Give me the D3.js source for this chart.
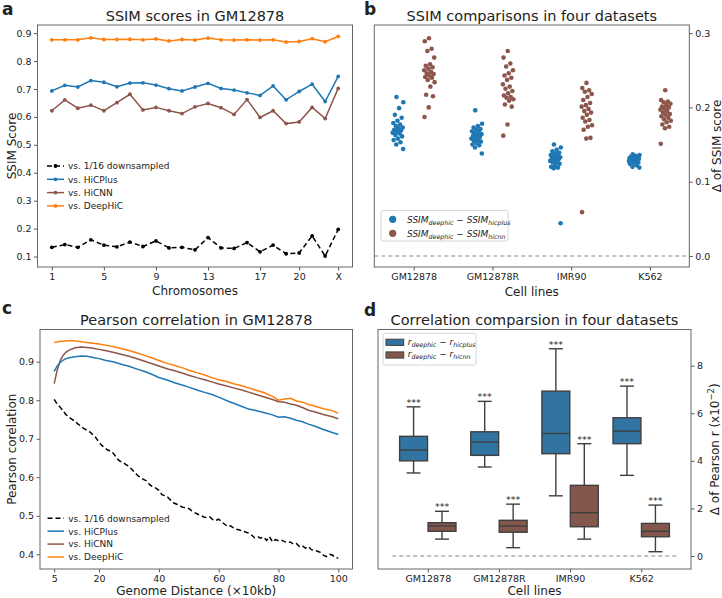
<!DOCTYPE html>
<html><head><meta charset="utf-8">
<script src="https://cdn.jsdelivr.net/npm/d3@7"></script>
<style>
body{margin:0;background:#fff}
svg{display:block}
text{font-family:"DejaVu Sans",sans-serif;fill:#222}
</style>
</head><body>
<svg id="chart" width="722" height="598"></svg>
<script>
// ---------------- DATA ----------------
// Panel a
const chromosomes = ["1","2","3","4","5","6","7","8","9","10","11","12","13","14","15","16","17","18","19","20","21","22","X"];
const chromTickLabels = ["1","5","9","13","17","20","X"];
const ssimDownsampled = [0.133,0.143,0.133,0.160,0.141,0.135,0.152,0.136,0.156,0.131,0.133,0.124,0.168,0.131,0.129,0.150,0.117,0.141,0.110,0.113,0.174,0.102,0.197];
const ssimHiCPlus = [0.693,0.713,0.707,0.730,0.724,0.708,0.721,0.722,0.714,0.701,0.693,0.707,0.720,0.702,0.696,0.686,0.677,0.711,0.661,0.691,0.717,0.655,0.745];
const ssimHiCNN = [0.622,0.661,0.631,0.642,0.622,0.651,0.681,0.625,0.634,0.622,0.612,0.636,0.648,0.633,0.609,0.662,0.598,0.622,0.576,0.582,0.634,0.594,0.702];
const ssimDeepHiC = [0.876,0.876,0.876,0.883,0.877,0.877,0.878,0.876,0.879,0.872,0.877,0.875,0.882,0.876,0.875,0.876,0.875,0.876,0.868,0.870,0.880,0.869,0.888];

// Panel b
const cellLines = ["GM12878","GM12878R","IMR90","K562"];
const dSsimHicplus = [
  [0.214,0.207,0.199,0.190,0.186,0.182,0.179,0.177,0.175,0.173,0.172,0.170,0.169,0.168,0.166,0.165,0.163,0.161,0.158,0.156,0.153,0.150,0.144],
  [0.196,0.178,0.175,0.173,0.171,0.170,0.168,0.167,0.165,0.164,0.163,0.162,0.160,0.159,0.158,0.156,0.155,0.154,0.152,0.150,0.149,0.146,0.138],
  [0.150,0.146,0.143,0.141,0.139,0.138,0.136,0.135,0.134,0.133,0.132,0.131,0.130,0.129,0.128,0.127,0.126,0.124,0.122,0.120,0.119,0.118,0.044],
  [0.137,0.136,0.135,0.134,0.134,0.133,0.132,0.132,0.131,0.131,0.130,0.130,0.129,0.129,0.128,0.128,0.127,0.126,0.125,0.124,0.122,0.120,0.119]
];
const dSsimHicnn = [
  [0.293,0.289,0.279,0.276,0.267,0.258,0.256,0.254,0.252,0.250,0.248,0.246,0.245,0.243,0.241,0.240,0.237,0.234,0.228,0.217,0.215,0.200,0.187],
  [0.276,0.267,0.259,0.255,0.250,0.246,0.243,0.240,0.237,0.231,0.228,0.225,0.222,0.219,0.216,0.214,0.213,0.211,0.209,0.204,0.201,0.177,0.162],
  [0.233,0.226,0.223,0.221,0.218,0.214,0.210,0.206,0.203,0.201,0.198,0.195,0.193,0.190,0.186,0.183,0.181,0.176,0.174,0.170,0.159,0.158,0.059],
  [0.223,0.210,0.208,0.207,0.205,0.203,0.201,0.200,0.198,0.197,0.195,0.193,0.191,0.190,0.188,0.186,0.184,0.182,0.180,0.177,0.174,0.172,0.151]
];

// Panel c
const distSmooth = [5,6,7,8,9,10,12,14,16,18,20,22,25,28,30,33,35,38,40,43,45,48,50,53,55,58,60,63,65,68,70,72,75,78,80,82,84,86,88,90,92,95,98,100];
const pearsonHiCPlus = [0.875,0.889,0.898,0.904,0.908,0.910,0.913,0.915,0.914,0.911,0.908,0.904,0.899,0.892,0.888,0.880,0.875,0.866,0.859,0.852,0.846,0.839,0.834,0.826,0.821,0.814,0.808,0.798,0.792,0.783,0.777,0.774,0.768,0.762,0.756,0.757,0.753,0.748,0.744,0.738,0.733,0.724,0.716,0.711];
const pearsonHiCNN = [0.843,0.878,0.903,0.917,0.925,0.930,0.936,0.938,0.937,0.935,0.932,0.929,0.924,0.918,0.914,0.907,0.902,0.894,0.889,0.881,0.877,0.870,0.865,0.858,0.854,0.847,0.842,0.836,0.832,0.826,0.821,0.816,0.809,0.802,0.796,0.795,0.790,0.787,0.781,0.774,0.770,0.763,0.757,0.752];
const pearsonDeepHiC = [0.950,0.951,0.953,0.953,0.954,0.955,0.954,0.952,0.950,0.948,0.946,0.943,0.939,0.933,0.929,0.922,0.917,0.909,0.903,0.895,0.891,0.884,0.878,0.871,0.866,0.858,0.853,0.848,0.843,0.837,0.832,0.827,0.820,0.810,0.800,0.803,0.805,0.798,0.795,0.789,0.785,0.778,0.773,0.766];
const distDown = d3.range(5, 101);
const pearsonDownsampled = [0.802,0.790,0.782,0.772,0.762,0.756,0.750,0.745,0.738,0.732,0.726,0.722,0.717,0.710,0.702,0.690,0.682,0.676,0.670,0.668,0.660,0.648,0.642,0.638,0.633,0.628,0.620,0.612,0.604,0.598,0.594,0.590,0.580,0.575,0.572,0.566,0.555,0.552,0.548,0.540,0.533,0.530,0.526,0.522,0.520,0.519,0.513,0.508,0.504,0.501,0.497,0.495,0.497,0.490,0.488,0.491,0.484,0.478,0.472,0.474,0.468,0.465,0.463,0.460,0.458,0.455,0.450,0.443,0.446,0.442,0.445,0.436,0.446,0.432,0.438,0.435,0.437,0.433,0.430,0.432,0.426,0.428,0.420,0.422,0.416,0.420,0.412,0.410,0.408,0.405,0.398,0.394,0.400,0.398,0.392,0.390];

// Panel d : [lower whisker, Q1, median, Q3, upper whisker] (x10^-2)
const boxStatsHicplus = [
  [3.49,4.00,4.45,5.03,6.27],
  [3.74,4.23,4.79,5.22,6.50],
  [2.53,4.30,5.15,6.93,8.71],
  [3.39,4.72,5.25,5.81,7.14]
];
const boxStatsHicnn = [
  [0.71,1.04,1.26,1.40,1.88],
  [0.35,1.00,1.26,1.50,2.18],
  [0.71,1.23,1.82,2.97,4.72],
  [0.18,0.81,1.04,1.37,2.14]
];

// ---------------- STYLE ----------------
const C_BLUE = "#1f77b4", C_ORANGE = "#ff7f0e", C_BROWN = "#8c564b", C_BLACK = "#000";
const C_BOX_BLUE = "#3274a1", C_BOX_BROWN = "#84574d", C_LINE = "#3f3f3f";
const TICK_FS = 9.5, LABEL_FS = 12, TITLE_FS = 14.5, LEG_FS = 9;

const svg = d3.select("#chart");

function styleAxis(g){
  g.attr("font-family","DejaVu Sans").attr("font-size",TICK_FS);
  g.select(".domain").remove();
  g.selectAll(".tick line").attr("stroke","#444").attr("stroke-width",0.9);
  g.selectAll(".tick text").attr("fill","#222");
}
function frame(x0,x1,y0,y1){
  svg.append("rect").attr("x",x0).attr("y",y0).attr("width",x1-x0).attr("height",y1-y0)
    .attr("fill","none").attr("stroke","#666").attr("stroke-width",1);
}
function title(txt,cx,y){
  svg.append("text").attr("x",cx).attr("y",y).attr("text-anchor","middle").attr("font-size",TITLE_FS).text(txt);
}
function panelLabel(txt,x,y){
  svg.append("text").attr("x",x).attr("y",y).attr("font-family","'Liberation Serif',serif")
    .attr("font-weight","bold").attr("font-size",17).attr("fill","#000").text(txt);
}
function vLabel(txt,x,y){
  return svg.append("text").attr("transform",`translate(${x},${y}) rotate(-90)`).attr("text-anchor","middle")
    .attr("font-size",LABEL_FS).text(txt);
}

// ---------------- PANEL A ----------------
{
  const L=37.5,R=352.5,T=25,B=267;
  const x = d3.scaleLinear().domain([-1.1,23.1]).range([L,R]);
  const y = d3.scaleLinear().domain([0.0626,0.929]).range([B,T]);
  const tickIdx = chromTickLabels.map(l=>chromosomes.indexOf(l));
  const gx = svg.append("g").attr("transform",`translate(0,${B})`)
    .call(d3.axisBottom(x).tickValues(tickIdx).tickFormat(d=>chromosomes[d]).tickSize(3.5).tickPadding(3));
  styleAxis(gx);
  const gy = svg.append("g").attr("transform",`translate(${L},0)`)
    .call(d3.axisLeft(y).tickValues([0.1,0.2,0.3,0.4,0.5,0.6,0.7,0.8,0.9]).tickFormat(d3.format(".1f")).tickSize(3.5).tickPadding(2.5));
  styleAxis(gy);
  const series = [
    {v:ssimDownsampled,c:C_BLACK,dash:"5,3",name:"vs. 1/16 downsampled"},
    {v:ssimHiCPlus,c:C_BLUE,dash:null,name:"vs. HiCPlus"},
    {v:ssimHiCNN,c:C_BROWN,dash:null,name:"vs. HiCNN"},
    {v:ssimDeepHiC,c:C_ORANGE,dash:null,name:"vs. DeepHiC"}
  ];
  const line = d3.line().x((d,i)=>x(i)).y(d=>y(d));
  series.forEach(s=>{
    svg.append("path").attr("d",line(s.v)).attr("fill","none").attr("stroke",s.c).attr("stroke-width",1.5)
      .attr("stroke-dasharray",s.dash);
    svg.append("g").selectAll("circle").data(s.v).join("circle")
      .attr("cx",(d,i)=>x(i)).attr("cy",d=>y(d)).attr("r",1.9).attr("fill",s.c);
  });
  // legend
  series.forEach((s,i)=>{
    const ly = 166 + i*13.3;
    svg.append("line").attr("x1",47).attr("x2",64).attr("y1",ly).attr("y2",ly)
      .attr("stroke",s.c).attr("stroke-width",1.5).attr("stroke-dasharray",s.dash);
    svg.append("circle").attr("cx",55.5).attr("cy",ly).attr("r",1.9).attr("fill",s.c);
    svg.append("text").attr("x",68).attr("y",ly+3.3).attr("font-size",LEG_FS).text(s.name);
  });
  frame(L,R,T,B);
  title("SSIM scores in GM12878",(L+R)/2,20.5);
  svg.append("text").attr("x",(L+R)/2).attr("y",295).attr("text-anchor","middle").attr("font-size",LABEL_FS).text("Chromosomes");
  vLabel("SSIM Score",15.5,(T+B)/2);
  panelLabel("a",2,15);
}

// ---------------- PANEL B ----------------
{
  const L=374.3,R=689.3,T=25,B=267;
  const x = d3.scaleLinear().domain([-0.5,3.5]).range([L,R]);
  const y = d3.scaleLinear().domain([-0.0148,0.3109]).range([B,T]);
  const gx = svg.append("g").attr("transform",`translate(0,${B})`)
    .call(d3.axisBottom(x).tickValues([0,1,2,3]).tickFormat(d=>cellLines[d]).tickSize(3.5).tickPadding(3));
  styleAxis(gx);
  const gy = svg.append("g").attr("transform",`translate(${R},0)`)
    .call(d3.axisRight(y).tickValues([0,0.1,0.2,0.3]).tickFormat(d3.format(".1f")).tickSize(3.5).tickPadding(2.5));
  styleAxis(gy);
  svg.append("line").attr("x1",x(-0.5)).attr("x2",x(3.5)).attr("y1",y(0)).attr("y2",y(0))
    .attr("stroke","#888").attr("stroke-width",1.2).attr("stroke-dasharray","4,3");
  const jit = i => ((((i*0.61803398875)+0.37)%1)-0.5)*0.14;
  cellLines.forEach((cl,ci)=>{
    svg.append("g").selectAll("circle").data(dSsimHicplus[ci]).join("circle")
      .attr("cx",(d,i)=>x(ci-0.2+jit(i))).attr("cy",d=>y(d)).attr("r",2.3).attr("fill",C_BLUE);
    svg.append("g").selectAll("circle").data(dSsimHicnn[ci]).join("circle")
      .attr("cx",(d,i)=>x(ci+0.2+jit(i+5))).attr("cy",d=>y(d)).attr("r",2.3).attr("fill",C_BROWN);
  });
  // legend
  svg.append("rect").attr("x",381).attr("y",210.5).attr("width",127).attr("height",30.5).attr("rx",2)
    .attr("fill","#fff").attr("fill-opacity",0.8).attr("stroke","#ccc").attr("stroke-width",0.8);
  const legB = [{c:C_BLUE,sub2:"hicplus"},{c:C_BROWN,sub2:"hicnn"}];
  legB.forEach((e,i)=>{
    const ly = 219.3 + i*14;
    svg.append("circle").attr("cx",392.7).attr("cy",ly).attr("r",3.6).attr("fill",e.c);
    const t = svg.append("text").attr("x",407).attr("y",ly+3.2).attr("font-size",LEG_FS).attr("font-style","italic");
    t.append("tspan").text("SSIM");
    t.append("tspan").attr("font-size",6.3).attr("dy",2).text("deephic");
    t.append("tspan").attr("dy",-2).attr("font-style","normal").text(" − ");
    t.append("tspan").text("SSIM");
    t.append("tspan").attr("font-size",6.3).attr("dy",2).text(e.sub2);
  });
  frame(L,R,T,B);
  title("SSIM comparisons in four datasets",(L+R)/2,20.5);
  svg.append("text").attr("x",(L+R)/2).attr("y",296).attr("text-anchor","middle").attr("font-size",LABEL_FS).text("Cell lines");
  vLabel("Δ of SSIM score",720.5,(T+B)/2);
  panelLabel("b",364,15);
}

// ---------------- PANEL C ----------------
{
  const L=40,R=352.5,T=329.5,B=569;
  const x = d3.scaleLinear().domain([0.25,104.75]).range([L,R]);
  const y = d3.scaleLinear().domain([0.3618,0.9836]).range([B,T]);
  const gx = svg.append("g").attr("transform",`translate(0,${B})`)
    .call(d3.axisBottom(x).tickValues([5,20,40,60,80,100]).tickSize(3.5).tickPadding(3));
  styleAxis(gx);
  const gy = svg.append("g").attr("transform",`translate(${L},0)`)
    .call(d3.axisLeft(y).tickValues([0.4,0.5,0.6,0.7,0.8,0.9]).tickFormat(d3.format(".1f")).tickSize(3.5).tickPadding(2.5));
  styleAxis(gy);
  const series = [
    {xs:distDown,v:pearsonDownsampled,c:C_BLACK,dash:"5,3",name:"vs. 1/16 downsampled"},
    {xs:distSmooth,v:pearsonHiCPlus,c:C_BLUE,dash:null,name:"vs. HiCPlus"},
    {xs:distSmooth,v:pearsonHiCNN,c:C_BROWN,dash:null,name:"vs. HiCNN"},
    {xs:distSmooth,v:pearsonDeepHiC,c:C_ORANGE,dash:null,name:"vs. DeepHiC"}
  ];
  series.slice().reverse().forEach(s=>{
    const line = d3.line().x((d,i)=>x(s.xs[i])).y(d=>y(d));
    svg.append("path").attr("d",line(s.v)).attr("fill","none").attr("stroke",s.c).attr("stroke-width",1.5)
      .attr("stroke-dasharray",s.dash);
  });
  series.forEach((s,i)=>{
    const ly = 518.3 + i*12.9;
    svg.append("line").attr("x1",47.5).attr("x2",64).attr("y1",ly).attr("y2",ly)
      .attr("stroke",s.c).attr("stroke-width",1.5).attr("stroke-dasharray",s.dash);
    svg.append("text").attr("x",68.3).attr("y",ly+3.3).attr("font-size",LEG_FS).text(s.name);
  });
  frame(L,R,T,B);
  title("Pearson correlation in GM12878",(L+R)/2,325);
  svg.append("text").attr("x",(L+R)/2).attr("y",594.5).attr("text-anchor","middle").attr("font-size",LABEL_FS).text("Genome Distance (×10kb)");
  vLabel("Pearson corelation",15.5,(T+B)/2);
  panelLabel("c",2,314);
}

// ---------------- PANEL D ----------------
{
  const L=378,R=691,T=329.5,B=569;
  const x = d3.scaleLinear().domain([-0.7,3.7]).range([L,R]);
  const y = d3.scaleLinear().domain([-0.546,9.52]).range([B,T]);
  const gx = svg.append("g").attr("transform",`translate(0,${B})`)
    .call(d3.axisBottom(x).tickValues([0,1,2,3]).tickFormat(d=>cellLines[d]).tickSize(3.5).tickPadding(3));
  styleAxis(gx);
  const gy = svg.append("g").attr("transform",`translate(${R},0)`)
    .call(d3.axisRight(y).tickValues([0,2,4,6,8]).tickFormat(d3.format("d")).tickSize(3.5).tickPadding(2.5));
  styleAxis(gy);
  svg.append("line").attr("x1",x(-0.5)).attr("x2",x(3.5)).attr("y1",y(0)).attr("y2",y(0))
    .attr("stroke","#888").attr("stroke-width",1.2).attr("stroke-dasharray","4,3");
  const bw = x(0.392)-x(0);
  const drawBox = (st,cx,fill)=>{
    const [lo,q1,md,q3,hi] = st;
    const g = svg.append("g");
    g.append("line").attr("x1",cx).attr("x2",cx).attr("y1",y(q3)).attr("y2",y(hi)).attr("stroke",C_LINE).attr("stroke-width",1.4);
    g.append("line").attr("x1",cx).attr("x2",cx).attr("y1",y(q1)).attr("y2",y(lo)).attr("stroke",C_LINE).attr("stroke-width",1.4);
    g.append("line").attr("x1",cx-bw/4).attr("x2",cx+bw/4).attr("y1",y(hi)).attr("y2",y(hi)).attr("stroke",C_LINE).attr("stroke-width",1.4);
    g.append("line").attr("x1",cx-bw/4).attr("x2",cx+bw/4).attr("y1",y(lo)).attr("y2",y(lo)).attr("stroke",C_LINE).attr("stroke-width",1.4);
    g.append("rect").attr("x",cx-bw/2).attr("y",y(q3)).attr("width",bw).attr("height",y(q1)-y(q3))
      .attr("fill",fill).attr("stroke",C_LINE).attr("stroke-width",1.4);
    g.append("line").attr("x1",cx-bw/2).attr("x2",cx+bw/2).attr("y1",y(md)).attr("y2",y(md)).attr("stroke",C_LINE).attr("stroke-width",1.4);
    svg.append("text").attr("x",cx).attr("y",y(hi)-1.2).attr("text-anchor","middle").attr("font-size",9.5).text("***");
  };
  cellLines.forEach((cl,ci)=>{
    drawBox(boxStatsHicplus[ci], x(ci-0.2), C_BOX_BLUE);
    drawBox(boxStatsHicnn[ci], x(ci+0.2), C_BOX_BROWN);
  });
  // legend
  svg.append("rect").attr("x",383).attr("y",333.3).attr("width",93).attr("height",31.7).attr("rx",2)
    .attr("fill","#fff").attr("fill-opacity",0.8).attr("stroke","#ccc").attr("stroke-width",0.8);
  const legD = [{c:C_BOX_BLUE,sub2:"hicplus"},{c:C_BOX_BROWN,sub2:"hicnn"}];
  legD.forEach((e,i)=>{
    const ly = 342.3 + i*12.7;
    svg.append("rect").attr("x",386).attr("y",ly-3.1).attr("width",17.7).attr("height",6.2)
      .attr("fill",e.c).attr("stroke",C_LINE).attr("stroke-width",1);
    const t = svg.append("text").attr("x",407.7).attr("y",ly+2.2).attr("font-size",LEG_FS).attr("font-style","italic");
    t.append("tspan").text("r");
    t.append("tspan").attr("font-size",6.3).attr("dy",2).text("deephic");
    t.append("tspan").attr("dy",-2).attr("font-style","normal").text(" − ");
    t.append("tspan").text("r");
    t.append("tspan").attr("font-size",6.3).attr("dy",2).text(e.sub2);
  });
  frame(L,R,T,B);
  title("Correlation comparsion in four datasets",(L+R)/2,325);
  svg.append("text").attr("x",(L+R)/2).attr("y",594.5).attr("text-anchor","middle").attr("font-size",LABEL_FS).text("Cell lines");
  const vl = svg.append("text").attr("transform",`translate(719,${(T+B)/2}) rotate(-90)`).attr("text-anchor","middle").attr("font-size",LABEL_FS);
  vl.append("tspan").text("Δ of Pearson r (x10");
  vl.append("tspan").attr("font-size",8.5).attr("dy",-5).text("−2");
  vl.append("tspan").attr("dy",5).text(")");
  panelLabel("d",364,316);
}
</script>
</body></html>
